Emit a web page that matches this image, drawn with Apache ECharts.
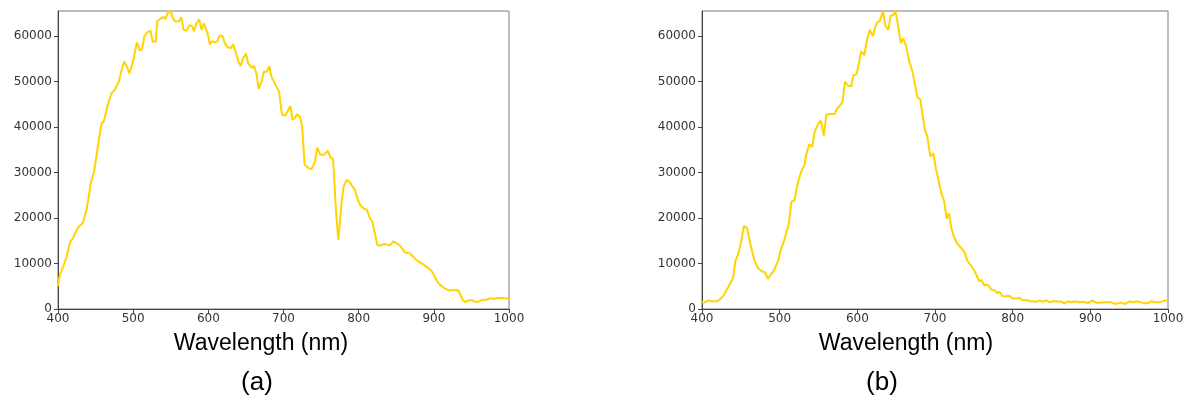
<!DOCTYPE html>
<html>
<head>
<meta charset="utf-8">
<script src="https://cdn.jsdelivr.net/npm/echarts@6/dist/echarts.min.js"></script>
<style>
html,body{margin:0;padding:0;background:#fff;}
#chart{width:1193px;height:404px;}
</style>
</head>
<body>
<div id="chart"></div>
<script>
// Panel (a) spectrum
const wavelengthA = [400,402,407,411,416,420,424,428,433,438,441,444,448,451,454,458,461,466,471,475,481,484,488,491,495,499,502,505,509,512,515,520,523,526,530,532,537,540,543,547,550,553,556,561,564,567,571,575,578,581,584,588,591,594,599,602,605,609,612,615,619,622,626,630,633,637,640,643,646,650,653,658,661,664,667,671,674,678,681,684,689,694,698,702,705,709,712,715,718,722,725,728,733,737,742,745,749,754,759,763,766,770,773,777,780,784,788,792,795,799,802,806,811,815,818,822,825,829,834,839,842,846,851,856,860,864,867,872,876,881,886,891,895,899,902,906,909,911,915,920,926,932,935,938,942,946,951,955,960,964,971,976,980,986,993,1000];
const intensityA = [5000,7200,9400,11200,14700,15600,17100,18200,18900,21800,24800,28000,30200,33500,36800,40800,41300,44800,47400,48100,50000,52200,54400,53600,51800,54000,56200,58600,56800,57300,60000,61000,61200,58800,58800,63300,63900,64200,63800,65500,65400,63900,63200,63300,64200,61400,61200,62400,62300,61100,62800,63700,61400,62800,60600,58200,58900,58600,58900,60200,60000,58400,57500,57400,58200,56200,54400,53400,55100,56200,54000,53100,53400,51700,48400,50200,52200,52200,53400,51100,49400,47900,42700,42500,43300,44700,41600,42000,42800,42300,39900,31800,31000,30700,32400,35500,33900,33900,34800,33200,33000,21100,15200,22900,26900,28400,27900,26900,26200,24000,22900,22200,21800,20000,19300,16300,14000,14000,14300,14100,14000,14900,14400,13800,12700,12300,12400,11600,10900,10300,9800,9200,8700,7900,6800,5700,5200,5400,4500,4100,4100,4200,3300,2100,1500,1900,1900,1600,1600,2000,2100,2400,2200,2400,2400,2200];

// Panel (b) spectrum
const wavelengthB = [400,404,409,412,419,423,428,432,436,440,443,447,450,454,458,462,465,468,472,477,481,485,489,492,495,498,502,506,509,512,515,519,522,525,529,532,534,538,542,545,550,553,557,560,565,567,571,574,577,581,584,588,592,595,599,602,605,609,612,616,620,623,625,629,631,633,636,640,643,646,649,652,656,659,663,667,671,674,677,681,684,687,690,694,698,701,704,708,712,715,718,721,724,729,734,738,742,747,751,754,757,760,763,766,770,772,777,780,783,787,792,796,800,805,809,813,818,822,826,831,835,839,843,848,852,856,863,867,871,875,880,886,890,897,903,907,913,920,926,932,939,945,950,955,960,966,973,978,984,990,996,1000];
const intensityB = [1500,1500,1900,1700,1700,2100,3000,4300,5500,6800,10600,12300,14500,18300,17800,14500,12300,10500,9000,8300,8100,6600,7700,8300,9400,10600,13400,15200,17100,18900,23600,23800,26600,28800,30700,31700,33900,36200,35700,39000,40800,41400,38100,42700,42900,42500,42900,44100,44600,45600,50000,49100,49000,51400,51600,54000,56700,55800,58900,61400,60000,62000,62900,63400,63700,65500,62300,61400,64600,64600,65500,62800,58500,59500,57700,54400,52200,49600,46700,46100,42700,39400,38000,33500,34300,31000,28800,25600,23600,19800,21100,17800,16000,14300,13400,12500,10500,9400,8300,7200,6100,6400,5200,5400,5000,4300,4100,3500,3800,2800,2800,2900,2300,2300,2400,1900,2000,1700,1700,1600,1900,1600,1900,1500,1700,1700,1600,1200,1700,1500,1700,1500,1600,1300,1900,1400,1400,1500,1500,1100,1400,1100,1700,1500,1700,1400,1200,1700,1500,1500,1900,1700];

const xTicks = [400,500,600,700,800,900,1000];
const yTicks = [0,10000,20000,30000,40000,50000,60000];
const xLabel = 'Wavelength (nm)';
const panelLabels = ['(a)','(b)'];

const pairs = (xs, ys) => xs.map((x, i) => [x, ys[i]]);

const chart = echarts.init(document.getElementById('chart'), null, {renderer: 'canvas'});
const lineColor = '#FFD400';
const tickFont = {fontFamily: 'DejaVu Sans', fontSize: 12, color: '#333'};

function xAxisCfg(gi) {
  return {
    type: 'value', gridIndex: gi, min: xTicks[0], max: xTicks[xTicks.length - 1], interval: 100,
    axisLine: {show: true, onZero: false, lineStyle: {color: '#444', width: 1}},
    axisTick: {show: true, inside: false, length: 4, lineStyle: {color: '#444'}},
    axisLabel: Object.assign({margin: 4, formatter: v => xTicks.includes(v) ? String(v) : ''}, tickFont),
    splitLine: {show: false}
  };
}
function yAxisCfg(gi) {
  return {
    type: 'value', gridIndex: gi, min: 0, max: 65535, interval: 10000,
    axisLine: {show: true, lineStyle: {color: '#444', width: 1}},
    axisTick: {show: true, inside: false, length: 4, lineStyle: {color: '#444'}, customValues: yTicks},
    axisLabel: Object.assign({margin: 6, customValues: yTicks, formatter: v => String(v)}, tickFont),
    splitLine: {show: false}
  };
}

chart.setOption({
  animation: false,
  backgroundColor: '#fff',
  grid: [
    {left: 58, right: 684, top: 11, bottom: 95, show: true, borderColor: '#7a7a7a', borderWidth: 1, containLabel: false},
    {left: 702, right: 25, top: 11, bottom: 95, show: true, borderColor: '#7a7a7a', borderWidth: 1, containLabel: false}
  ],
  xAxis: [xAxisCfg(0), xAxisCfg(1)],
  yAxis: [yAxisCfg(0), yAxisCfg(1)],
  series: [
    {type: 'line', xAxisIndex: 0, yAxisIndex: 0, data: pairs(wavelengthA, intensityA),
      showSymbol: false, lineStyle: {color: lineColor, width: 2}, itemStyle: {color: lineColor}},
    {type: 'line', xAxisIndex: 1, yAxisIndex: 1, data: pairs(wavelengthB, intensityB),
      showSymbol: false, lineStyle: {color: lineColor, width: 2}, itemStyle: {color: lineColor}}
  ],
  graphic: [
    {type: 'text', x: 261, y: 344, style: {text: xLabel, font: '23px "Liberation Sans", Arial, sans-serif', fill: '#000', align: 'center', verticalAlign: 'middle'}},
    {type: 'text', x: 906, y: 344, style: {text: xLabel, font: '23px "Liberation Sans", Arial, sans-serif', fill: '#000', align: 'center', verticalAlign: 'middle'}},
    {type: 'text', x: 257, y: 383, style: {text: panelLabels[0], font: '26px "Liberation Sans", Arial, sans-serif', fill: '#000', align: 'center', verticalAlign: 'middle'}},
    {type: 'text', x: 882, y: 383, style: {text: panelLabels[1], font: '26px "Liberation Sans", Arial, sans-serif', fill: '#000', align: 'center', verticalAlign: 'middle'}}
  ]
});
</script>
</body>
</html>
